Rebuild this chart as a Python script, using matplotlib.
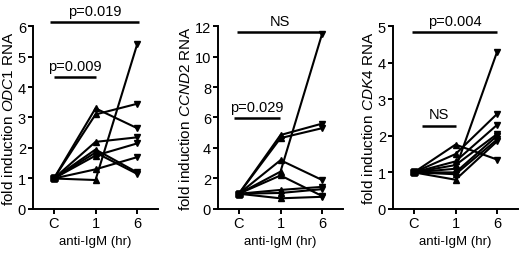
import matplotlib
matplotlib.use("Agg")
import matplotlib.pyplot as plt

plt.rcParams["font.family"] = ["Liberation Sans", "DejaVu Sans"]
plt.rcParams["mathtext.fontset"] = "custom"
plt.rcParams["mathtext.rm"] = "Liberation Sans"
plt.rcParams["mathtext.it"] = "Liberation Sans:italic"

timepoints = ["C", "1", "6"]

# each row: fold induction at C, 1 hr, 6 hr
odc1 = [
    [1, 3.3, 2.65],
    [1, 3.1, 3.45],
    [1, 2.2, 2.35],
    [1, 1.95, 1.2],
    [1, 1.85, 1.15],
    [1, 1.75, 2.15],
    [1, 1.3, 1.7],
    [1, 0.95, 5.4],
]
ccnd2 = [
    [1, 4.85, 5.6],
    [1, 4.65, 5.3],
    [1, 3.2, 1.9],
    [1, 2.45, 11.5],
    [1, 2.2, 0.85],
    [1, 1.25, 1.45],
    [1, 1.05, 1.3],
    [1, 0.7, 0.8],
]
cdk4 = [
    [1, 1.76, 1.35],
    [1, 1.5, 2.6],
    [1, 1.3, 2.3],
    [1, 1.2, 2.05],
    [1, 1.1, 4.3],
    [1, 1.0, 2.0],
    [1, 0.95, 1.9],
    [1, 0.8, 1.85],
]

genes = ["ODC1", "CCND2", "CDK4"]
ymax = [6, 12, 5]
yticks = [range(0, 7), range(0, 13, 2), range(0, 6)]
# significance bars: (x start, x end, y, label)
sig = [
    [(-0.1, 2.05, 6.13, "p=0.019"), (0.0, 1.0, 4.33, "p=0.009")],
    [(-0.05, 2.02, 11.6, "NS"), (-0.12, 0.98, 5.97, "p=0.029")],
    [(-0.05, 2.0, 4.83, "p=0.004"), (0.2, 1.0, 2.28, "NS")],
]

fig = plt.figure(figsize=(5.2, 2.55), dpi=100)
lefts = [33 / 520, 218 / 520, 393 / 520]
data = [odc1, ccnd2, cdk4]

for i in range(3):
    ax = fig.add_axes([lefts[i], 0.1765, 125 / 520, 0.7176])
    for row in data[i]:
        ax.plot(range(3), row, color="black", lw=1.5, zorder=2)
        ax.plot(0, row[0], "s", color="black", ms=4, zorder=3)
        ax.plot(1, row[1], "^", color="black", ms=4.3, zorder=3)
        ax.plot(2, row[2], "v", color="black", ms=4.3, zorder=3)

    ax.set_xlim(-0.5, 2.5)
    ax.set_ylim(0, ymax[i])
    ax.set_xticks(range(3))
    ax.set_xticklabels(timepoints)
    ax.set_yticks(list(yticks[i]))
    ax.spines["top"].set_visible(False)
    ax.spines["right"].set_visible(False)
    for s in ["left", "bottom"]:
        ax.spines[s].set_linewidth(1.4)
    ax.tick_params(width=1.4, length=3.5, labelsize=10.5, pad=1.5)
    ax.set_xlabel("anti-IgM (hr)", fontsize=9.5, labelpad=4)
    ax.set_ylabel("fold induction $\\mathit{" + genes[i] + "}$ RNA", fontsize=11, labelpad=1)

    for x0, x1, y, label in sig[i]:
        ax.plot([x0, x1], [y, y], color="black", lw=1.8, clip_on=False, solid_capstyle="butt")
        ax.annotate(label, ((x0 + x1) / 2, y), xytext=(0, 3), textcoords="offset points",
                    ha="center", va="bottom", fontsize=10.5, annotation_clip=False)

fig.savefig("out.png", dpi=100)
